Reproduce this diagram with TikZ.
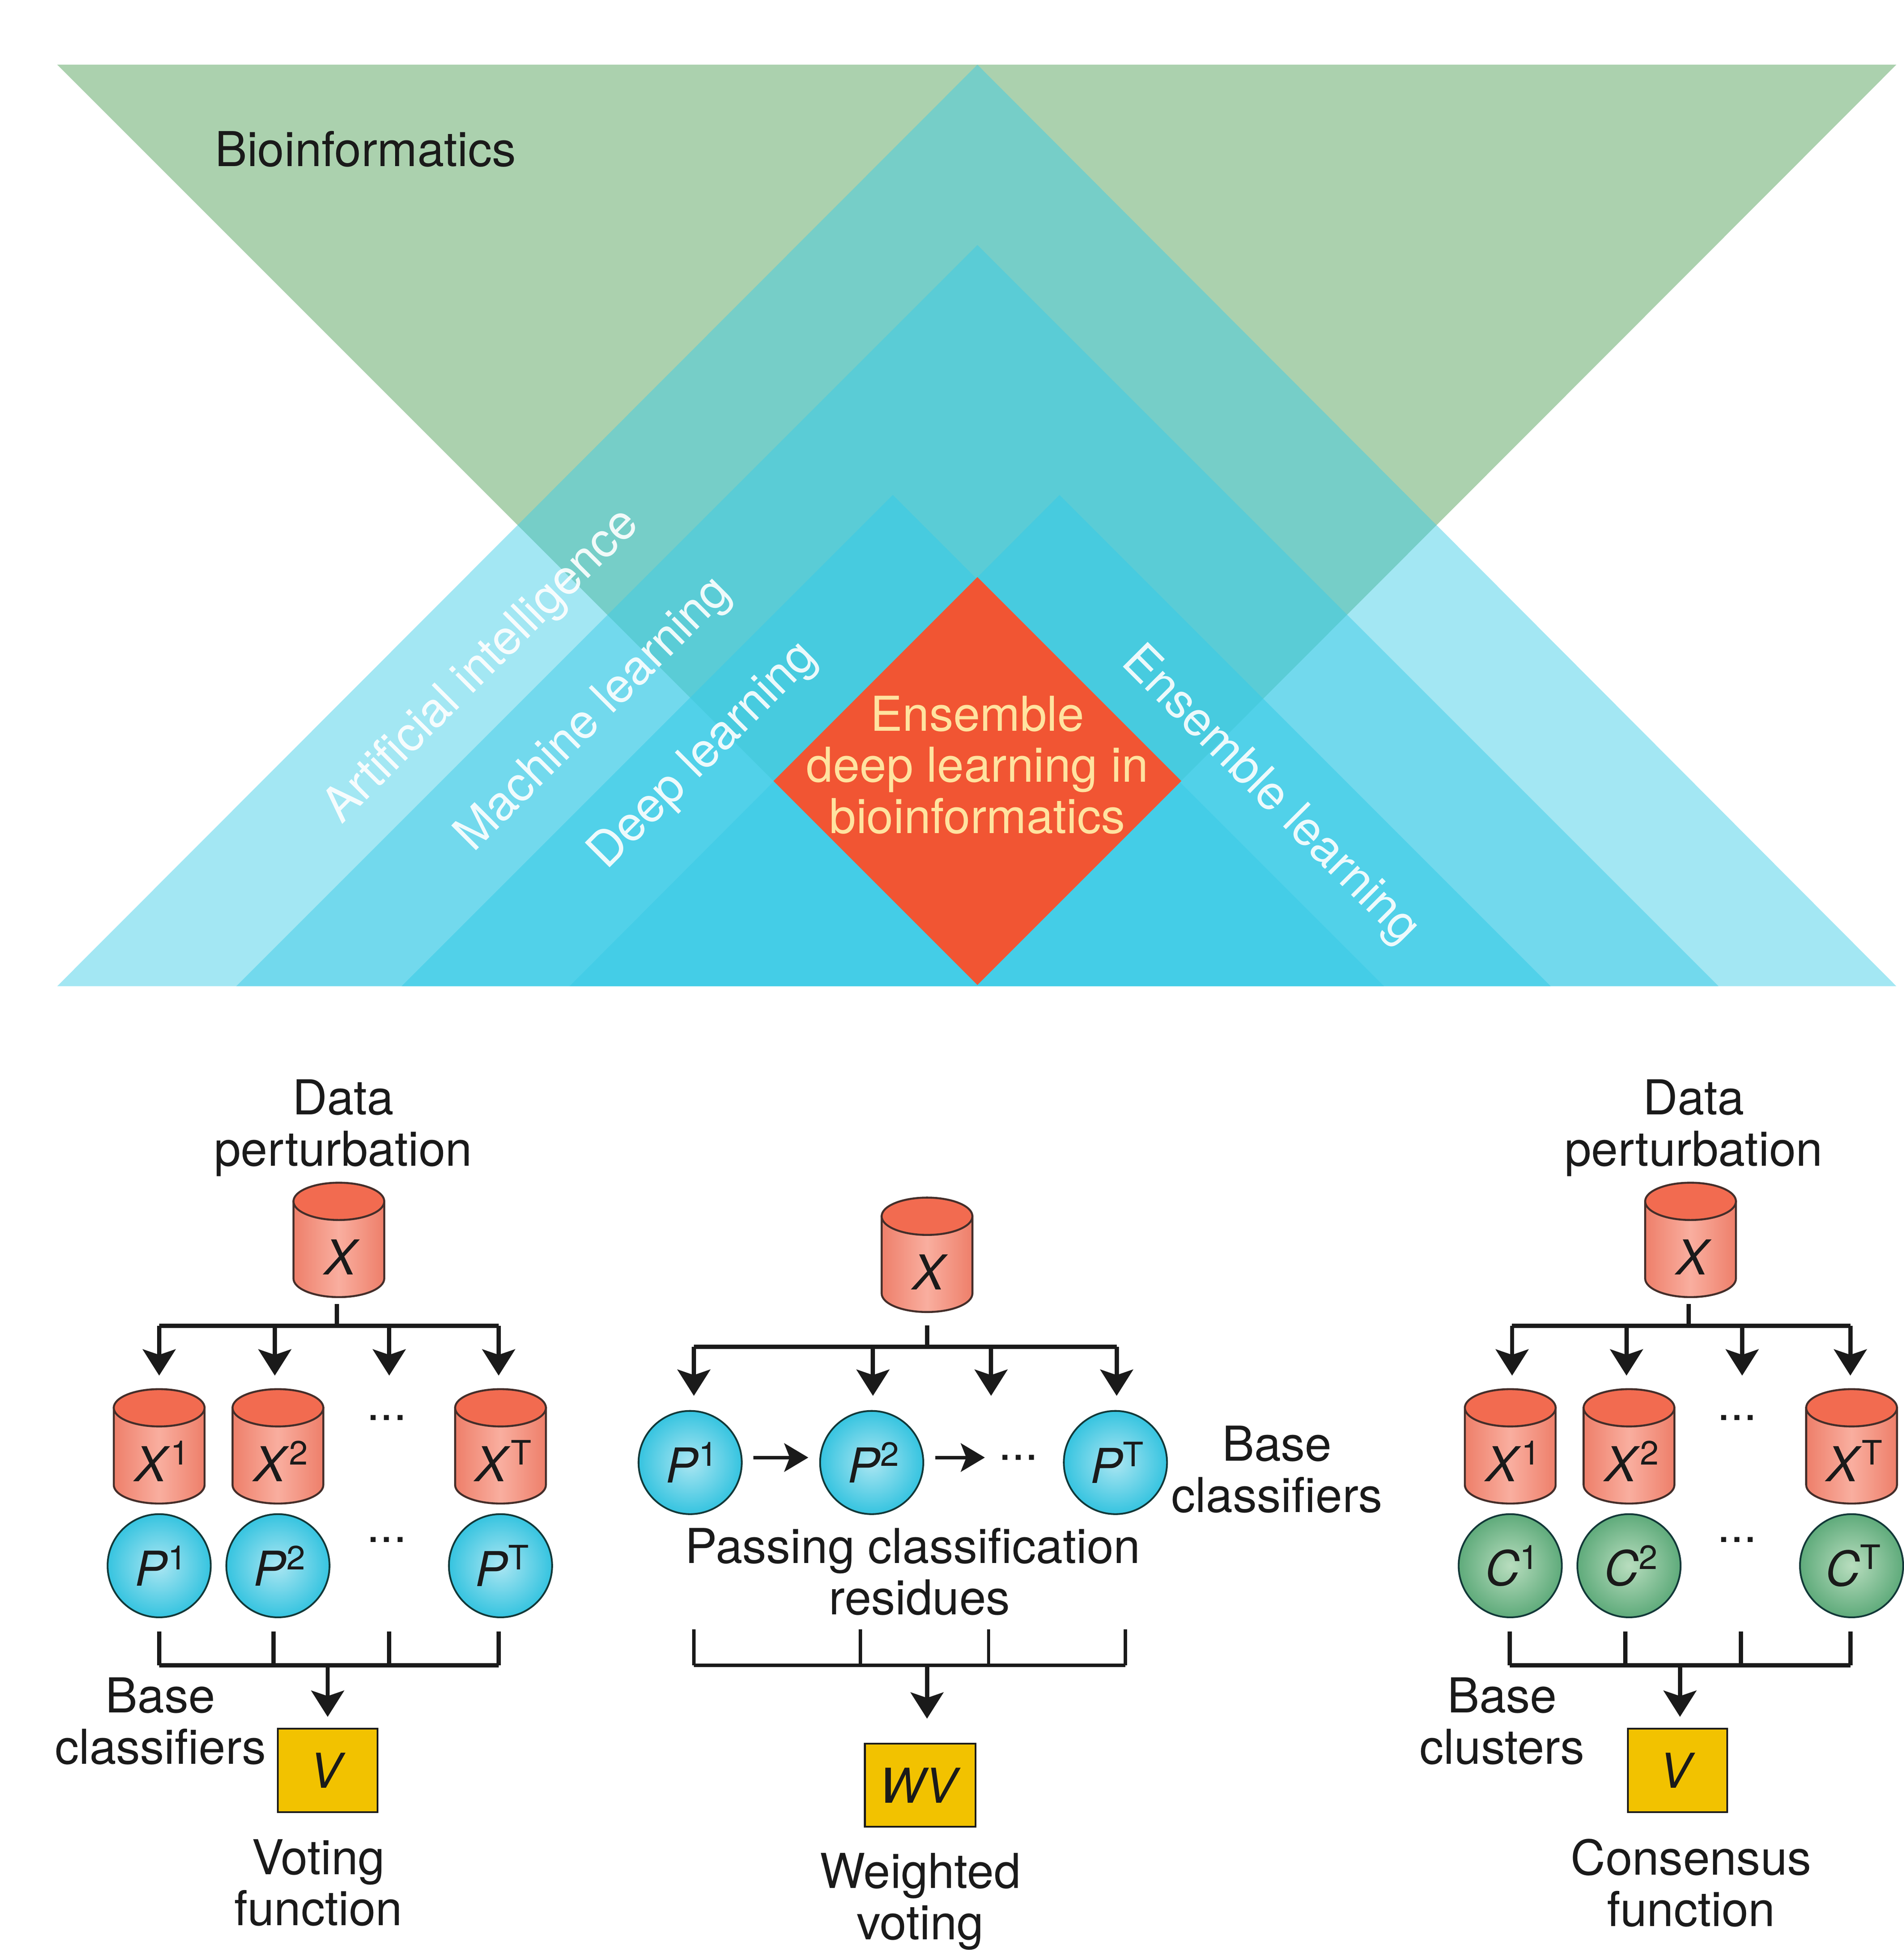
\documentclass[tikz,border=0pt]{standalone}
\usepackage{fontspec}
\setmainfont{TeX Gyre Heros}
\usetikzlibrary{arrows.meta}
\definecolor{bioGreen}{HTML}{ABD1AE}
\definecolor{fieldBlue}{HTML}{3CCBE6}
\definecolor{coreRed}{HTML}{F15533}
\definecolor{coreText}{HTML}{FFE3A0}
\definecolor{cylCap}{HTML}{F26B50}
\definecolor{cylEdge}{HTML}{EE7F6A}
\definecolor{cylMid}{HTML}{F9AE9F}
\definecolor{lineDark}{HTML}{1A1A1A}
\definecolor{boxYellow}{HTML}{F2C200}
\definecolor{ballBlueIn}{HTML}{ABE6F2}
\definecolor{ballBlueOut}{HTML}{36C4E0}
\definecolor{ballGreenIn}{HTML}{B8DDBE}
\definecolor{ballGreenOut}{HTML}{5FAB7B}
\tikzset{
  every node/.style={font=\fontsize{22}{23.4}\selectfont, inner sep=0pt, text=lineDark},
  field/.style={fill=fieldBlue, fill opacity=0.47},
  fieldin/.style={fill=fieldBlue, fill opacity=0.62},
  tag/.style={text=white, opacity=0.9},
  cylbody/.style={draw=lineDark!80!cylEdge, line width=0.9pt, left color=cylEdge, right color=cylEdge, middle color=cylMid},
  cylnode/.style={minimum width=1.46cm, minimum height=1.84cm},
  ballP/.style={circle, minimum size=1.66cm, draw=lineDark!70!teal, line width=0.8pt, shading=radial, inner color=ballBlueIn, outer color=ballBlueOut},
  ballC/.style={circle, minimum size=1.66cm, draw=lineDark!70!teal, line width=0.8pt, shading=radial, inner color=ballGreenIn, outer color=ballGreenOut},
  votebox/.style={rectangle, fill=boxYellow, draw=lineDark, line width=0.8pt, minimum height=1.34cm},
  bus/.style={line width=1.9pt, draw=lineDark},
  flow/.style={bus, -{Stealth[length=12pt, width=15pt, inset=2.5pt]}, shorten >=6pt},
  stub/.style={bus, shorten <=3pt}
}
% cylinder with a label set low in its body
\newcommand{\datacyl}[4]{
  \begin{scope}[shift={(#2,#3)}]
    \path[cylbody] (-36.5,-31) -- (-36.5,31)
      arc[start angle=180, end angle=0, x radius=36.5, y radius=15]
      -- (36.5,-31) -- cycle;
    \path[draw=lineDark!80!cylEdge, line width=0.9pt, fill=cylCap] (0,-31) ellipse [x radius=36.5, y radius=15];
  \end{scope}
  \node[cylnode] (#1) at (#2,#3) {\smash{\raisebox{-16pt}{\hspace{3pt}#4}}};
}
\newcommand{\vx}[1]{\textit{X}\textsuperscript{#1}}
\newcommand{\vp}[1]{\hspace{2pt}\textit{P}\textsuperscript{#1}}
\newcommand{\vc}[1]{\hspace{2pt}\textit{C}\textsuperscript{#1}}

\begin{document}
\begin{tikzpicture}[x=0.02cm, y=-0.02cm]
  \useasboundingbox (0,0) rectangle (1531,1568);

  % nested fields
  \fill[bioGreen] (46,52) -- (1525,52) -- (786,792) -- cycle;
  \fill[field] (786,52) -- (1525,793) -- (46,793) -- cycle;
  \fill[field] (786,197) -- (1382,793) -- (190,793) -- cycle;
  \fill[fieldin] (718,398) -- (1113,793) -- (323,793) -- cycle;
  \fill[fieldin] (852,398) -- (1247,793) -- (458,793) -- cycle;
  \fill[coreRed] (786,464) -- (950,628) -- (786,792) -- (622,628) -- cycle;

  \node (bioinf) at (294,120) {Bioinformatics};
  \node[tag, rotate=45] (ai) at (388,536) {Artificial intelligence};
  \node[tag, rotate=45] (ml) at (478,575) {Machine learning};
  \node[tag, rotate=45] (dl) at (566,608) {Deep learning};
  \node[tag, rotate=-45] (el) at (1021,640) {Ensemble learning};
  \node[text=coreText, align=center] (core) at (786,615) {Ensemble\\deep learning in\\bioinformatics};

  % left: voting
  \node[align=center] (pertL) at (276,907) {Data\\perturbation};
  \datacyl{XL}{272.5}{997}{\textit{X}}
  \datacyl{XLa}{128}{1163}{\vx{1}}
  \datacyl{XLb}{223.5}{1163}{\vx{2}}
  \datacyl{XLt}{402.5}{1163}{\vx{T}}
  \node (dotsLa) at (311,1140) {...};
  \node[ballP] (PLa) at (128,1259) {\vp{1}};
  \node[ballP] (PLb) at (223.5,1259) {\vp{2}};
  \node[ballP] (PLt) at (402.5,1259) {\vp{T}};
  \node (dotsLb) at (311,1238) {...};
  \node[align=center] (baseL) at (129,1384) {Base\\classifiers};
  \node[votebox, minimum width=1.6cm] (VL) at (263.5,1423.5) {\textit{V}};
  \node[align=center] (voteL) at (256,1514) {Voting\\function};

  \coordinate (busL) at (271,1066);
  \coordinate (aL1) at (128,1066);
  \coordinate (aL2) at (221,1066);
  \coordinate (aL3) at (313,1066);
  \coordinate (aL4) at (401,1066);
  \draw[stub] (busL |- XL.south) -- (busL);
  \draw[bus] (aL1) -- (aL4);
  \foreach \n in {1,2,3,4}
    \draw[flow] (aL\n) -- (aL\n |- XLa.north);
  \coordinate (cL) at (263.5,1339);
  \coordinate (cL1) at (128,1339);
  \coordinate (cL2) at (220,1339);
  \coordinate (cL3) at (313,1339);
  \coordinate (cL4) at (401,1339);
  \draw[bus] (cL1) -- (cL4);
  \foreach \n in {1,2,3,4}
    \draw[stub, shorten <=6pt] (cL\n |- PLa.south) -- (cL\n);
  \draw[flow, shorten >=5pt] (cL) -- (VL.north);

  % middle: boosting
  \datacyl{XM}{745.5}{1009}{\textit{X}}
  \node[ballP] (PMa) at (555,1176) {\vp{1}};
  \node[ballP] (PMb) at (701,1176) {\vp{2}};
  \node[ballP] (PMt) at (897,1176) {\vp{T}};
  \node (dotsM) at (819,1172) {...};
  \node[align=center] (baseM) at (1027,1181.5) {Base\\classifiers};
  \node (passing) at (734,1247) {Passing classification};
  \node (residues) at (739.5,1284.5) {residues};
  \node[votebox, minimum width=1.78cm] (WV) at (740,1435.5) {\textit{WV}};
  \node[align=center] (voteM) at (740,1529) {Weighted\\voting};

  \coordinate (busM) at (745.5,1083);
  \coordinate (aM1) at (558,1083);
  \coordinate (aM2) at (702,1083);
  \coordinate (aM3) at (797,1083);
  \coordinate (aM4) at (898,1083);
  \draw[stub, shorten <=6pt] (XM.south) -- (busM);
  \draw[bus] (aM1) -- (aM4);
  \foreach \n in {1,2,3,4}
    \draw[flow, shorten >=6.5pt] (aM\n) -- (aM\n |- PMa.north);
  \draw[bus, line width=1.6pt, -{Stealth[length=11pt, width=13pt, inset=2.5pt]}, shorten <=5pt, shorten >=5pt] (PMa.east |- dotsM) -- (PMb.west |- dotsM);
  \draw[bus, line width=1.6pt, -{Stealth[length=11pt, width=13pt, inset=2.5pt]}, shorten <=5pt, shorten >=6pt] (PMb.east |- dotsM) -- (dotsM.west);
  \coordinate (cM) at (745.5,1339);
  \coordinate (cM1) at (558,1339);
  \coordinate (cM2) at (692,1339);
  \coordinate (cM3) at (795,1339);
  \coordinate (cM4) at (905,1339);
  \draw[bus, line width=1.5pt] (cM1) -- (cM4);
  \foreach \n in {1,2,3,4}
    \draw[bus, line width=1.5pt] (cM\n) -- ++(0,-29);
  \draw[flow, shorten >=11pt] (cM) -- (cM |- WV.north);

  % right: consensus
  \node[align=center] (pertR) at (1362,907) {Data\\perturbation};
  \datacyl{XR}{1359.5}{997}{\textit{X}}
  \datacyl{XRa}{1214.5}{1163}{\vx{1}}
  \datacyl{XRb}{1310}{1163}{\vx{2}}
  \datacyl{XRt}{1489}{1163}{\vx{T}}
  \node (dotsRa) at (1397,1140) {...};
  \node[ballC] (CRa) at (1214.5,1259) {\vc{1}};
  \node[ballC] (CRb) at (1310,1259) {\vc{2}};
  \node[ballC] (CRt) at (1489,1259) {\vc{T}};
  \node (dotsRb) at (1397,1238) {...};
  \node[align=center] (baseR) at (1208,1384) {Base\\clusters};
  \node[votebox, minimum width=1.6cm] (VR) at (1349,1423.5) {\textit{V}};
  \node[align=center] (voteR) at (1360,1514) {Consensus\\function};

  \coordinate (busR) at (1358,1066);
  \coordinate (aR1) at (1216,1066);
  \coordinate (aR2) at (1308,1066);
  \coordinate (aR3) at (1401,1066);
  \coordinate (aR4) at (1488,1066);
  \draw[stub] (busR |- XR.south) -- (busR);
  \draw[bus] (aR1) -- (aR4);
  \foreach \n in {1,2,3,4}
    \draw[flow] (aR\n) -- (aR\n |- XRa.north);
  \coordinate (cR) at (1351,1339);
  \coordinate (cR1) at (1214,1339);
  \coordinate (cR2) at (1307,1339);
  \coordinate (cR3) at (1400,1339);
  \coordinate (cR4) at (1488,1339);
  \draw[bus] (cR1) -- (cR4);
  \foreach \n in {1,2,3,4}
    \draw[stub, shorten <=6pt] (cR\n |- CRa.south) -- (cR\n);
  \draw[flow, shorten >=5pt] (cR) -- (cR |- VR.north);
\end{tikzpicture}
\end{document}
